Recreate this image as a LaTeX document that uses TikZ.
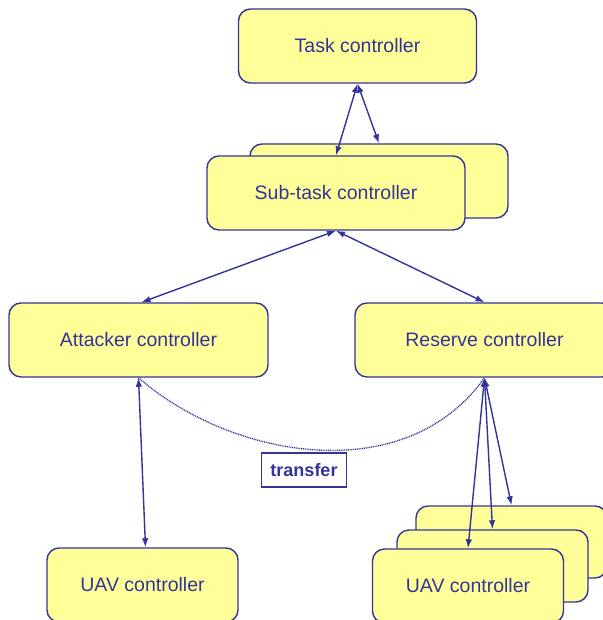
\documentclass[tikz,border=0pt]{standalone}
\usepackage{fontspec}
\setmainfont{Liberation Sans}
\usetikzlibrary{arrows.meta}
\definecolor{boxfill}{HTML}{FFFF99}
\definecolor{navy}{HTML}{333399}
\tikzset{
  ctrl/.style={draw=navy, fill=boxfill, line width=1.4pt, rounded corners=12pt,
    text=navy, font=\fontsize{19.5}{22}\selectfont, inner sep=0pt},
  link/.style={draw=navy, line width=1.4pt, {Latex[length=9pt,width=6.5pt]}-{Latex[length=9pt,width=6.5pt]}},
  xfer/.style={draw=navy, line width=1.3pt, dash pattern=on 1pt off 0.8pt},
  lbl/.style={draw=navy, line width=1.4pt, text=navy, font=\fontsize{18}{20}\selectfont\bfseries,
    minimum width=85pt, minimum height=34pt, inner sep=0pt}
}
\begin{document}
\begin{tikzpicture}[x=1pt,y=-1pt]
\useasboundingbox (0,0) rectangle (602,620);
\node[ctrl, minimum width=238pt, minimum height=74pt] (task) at (357.5,46) {Task controller};
\node[ctrl, minimum width=258pt, minimum height=74pt] (subback) at (379,181) {};
\node[ctrl, minimum width=258pt, minimum height=74pt] (sub) at (336,193) {Sub-task controller};
\node[ctrl, minimum width=259pt, minimum height=74pt] (att) at (138.5,340) {Attacker controller};
\node[ctrl, minimum width=259pt, minimum height=74pt] (res) at (484.5,340) {Reserve controller};
\node[ctrl, minimum width=191pt, minimum height=74pt] (uavl) at (142.5,585) {UAV controller};
\node[ctrl, minimum width=191pt, minimum height=72pt] (uavc) at (511.5,542) {};
\node[ctrl, minimum width=191pt, minimum height=72pt] (uavb) at (492.5,566) {};
\node[ctrl, minimum width=191pt, minimum height=74pt] (uava) at (468,586) {UAV controller};
\node[lbl] (transfer) at (304,470) {transfer};
\draw[link] (task.south) -- (sub.north);
\draw[link] (task.south) -- (subback.north);
\draw[link] (sub.south) -- ([xshift=3pt]att.north);
\draw[link] (sub.south) -- (res.north);
\draw[link] (att.south) -- ([xshift=3pt]uavl.north);
\draw[link] (res.south) -- (uava.north);
\draw[link] (res.south) -- (uavb.north);
\draw[link] (res.south) -- (uavc.north);
\draw[xfer] (att.south) .. controls (230,458) and (405,490) .. (res.south);
\end{tikzpicture}
\end{document}
